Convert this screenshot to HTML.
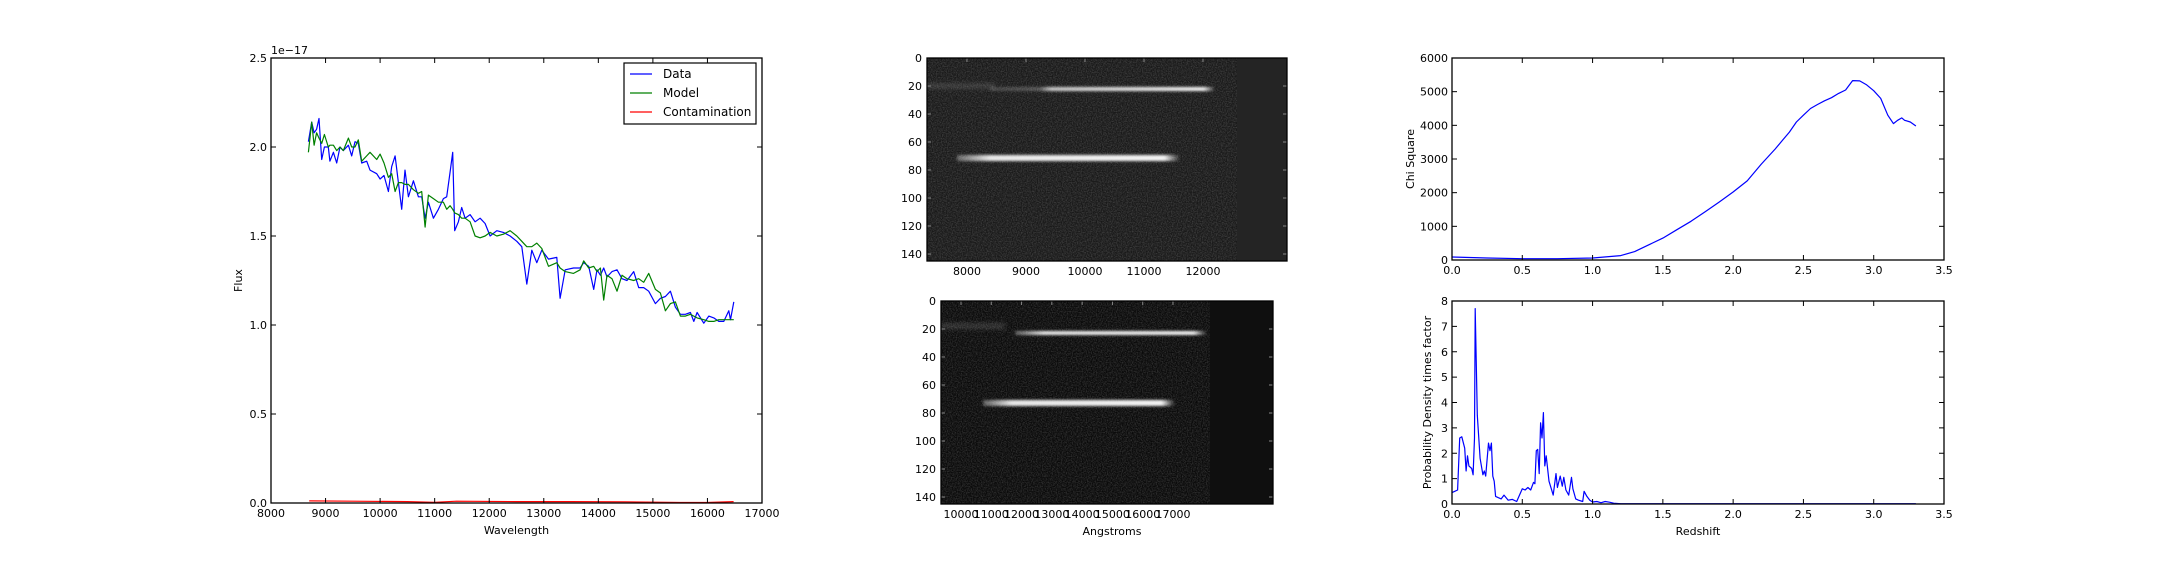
<!DOCTYPE html>
<html><head><meta charset="utf-8"><style>
html,body{margin:0;padding:0;background:#fff;}
svg{display:block;font-family:"DejaVu Sans","Liberation Sans",sans-serif;}
</style></head><body>
<svg id="fig" width="2160" height="576" viewBox="0 0 2160 576" xmlns="http://www.w3.org/2000/svg">
<defs>
<filter id="noise" x="0" y="0" width="100%" height="100%">
<feTurbulence type="fractalNoise" baseFrequency="0.8" numOctaves="2" seed="3" result="t"/>
<feColorMatrix type="matrix" values="0 0 0 0 1  0 0 0 0 1  0 0 0 0 1  0.35 0 0 0 -0.12"/>
</filter>
<filter id="blur1" x="-5%" y="-200%" width="110%" height="500%"><feGaussianBlur stdDeviation="1.3"/></filter>
<filter id="blur2" x="-5%" y="-200%" width="110%" height="500%"><feGaussianBlur stdDeviation="2"/></filter>
<linearGradient id="gA" x1="0" x2="1"><stop offset="0" stop-color="#fff" stop-opacity="0.15"/><stop offset="0.22" stop-color="#fff" stop-opacity="0.25"/><stop offset="0.27" stop-color="#fff" stop-opacity="0.75"/><stop offset="0.95" stop-color="#fff" stop-opacity="0.95"/><stop offset="1" stop-color="#fff" stop-opacity="0"/></linearGradient>
<linearGradient id="gB" x1="0" x2="1"><stop offset="0" stop-color="#fff" stop-opacity="0.3"/><stop offset="0.15" stop-color="#fff" stop-opacity="0.9"/><stop offset="0.93" stop-color="#fff" stop-opacity="0.95"/><stop offset="1" stop-color="#fff" stop-opacity="0"/></linearGradient>
</defs>
<g id="root"></g>
</svg>
<script>
// ---- Spectrum data (flux in 1e-17) ----
const specWave = [8685,8746,8790,8835,8880,8930,8978,9050,9080,9143,9204,9265,9326,9418,9479,9540,9601,9662,9754,9815,9938,9999,10072,10152,10213,10274,10335,10396,10457,10518,10610,10702,10763,10824,10885,10977,11069,11160,11221,11283,11331,11368,11435,11496,11557,11649,11741,11833,11924,12016,12138,12260,12383,12505,12597,12688,12780,12872,12964,13086,13239,13300,13392,13544,13666,13731,13823,13915,13976,14037,14098,14159,14251,14343,14434,14526,14648,14740,14832,14924,15046,15138,15229,15321,15413,15505,15596,15688,15749,15810,15933,16024,16116,16208,16299,16391,16422,16483];
const dataFlux = [2.03,2.14,2.08,2.10,2.16,1.93,2.00,2.00,1.92,1.97,1.91,2.00,1.98,2.01,1.95,2.03,2.02,1.91,1.92,1.87,1.85,1.82,1.84,1.75,1.89,1.95,1.80,1.65,1.87,1.72,1.81,1.72,1.72,1.60,1.69,1.60,1.65,1.71,1.72,1.86,1.97,1.53,1.58,1.66,1.60,1.62,1.58,1.60,1.57,1.50,1.53,1.52,1.50,1.47,1.44,1.23,1.42,1.35,1.42,1.37,1.38,1.15,1.31,1.32,1.32,1.35,1.33,1.20,1.31,1.28,1.32,1.27,1.30,1.31,1.26,1.25,1.30,1.21,1.21,1.19,1.12,1.15,1.16,1.19,1.10,1.06,1.06,1.07,1.02,1.07,1.01,1.05,1.04,1.02,1.02,1.08,1.03,1.13];
const modelFlux = [1.97,2.14,2.01,2.08,2.05,2.02,2.07,2.00,2.01,2.01,1.98,2.00,1.98,2.05,2.00,2.00,2.04,1.92,1.95,1.97,1.93,1.96,1.91,1.83,1.85,1.75,1.80,1.80,1.79,1.79,1.76,1.74,1.75,1.55,1.73,1.71,1.69,1.69,1.65,1.67,1.65,1.63,1.62,1.60,1.60,1.58,1.50,1.49,1.50,1.52,1.50,1.51,1.53,1.50,1.47,1.44,1.44,1.46,1.43,1.33,1.35,1.32,1.30,1.29,1.31,1.36,1.32,1.33,1.30,1.32,1.14,1.28,1.26,1.19,1.28,1.26,1.25,1.26,1.24,1.29,1.20,1.18,1.08,1.12,1.13,1.05,1.05,1.06,1.05,1.04,1.03,1.02,1.02,1.03,1.03,1.03,1.03,1.03];
const contamWave = [8700,9500,10500,11000,11400,12500,13500,14500,15500,16000,16480];
const contamFlux = [0.012,0.010,0.008,0.004,0.010,0.008,0.008,0.007,0.003,0.003,0.008];
const specXTicks = [8000,9000,10000,11000,12000,13000,14000,15000,16000,17000];
const specYTicks = [0.0,0.5,1.0,1.5,2.0,2.5];
const legendLabels = ["Data","Model","Contamination"];
// ---- Chi square ----
const chiZ = [0,0.25,0.5,0.75,1.0,1.2,1.3,1.4,1.5,1.6,1.7,1.8,1.9,2.0,2.1,2.2,2.3,2.35,2.4,2.45,2.5,2.55,2.6,2.65,2.7,2.75,2.8,2.85,2.9,2.95,3.0,3.05,3.1,3.14,3.17,3.2,3.22,3.26,3.3];
const chiVal = [90,60,40,40,60,130,250,450,650,900,1150,1430,1720,2020,2350,2850,3300,3550,3800,4100,4300,4500,4620,4730,4820,4950,5050,5330,5320,5200,5030,4800,4300,4050,4150,4220,4150,4100,3980];
const chiYTicks = [0,1000,2000,3000,4000,5000,6000];
const zTicks = [0.0,0.5,1.0,1.5,2.0,2.5,3.0,3.5];
// ---- Probability density ----
const pdfZ = [0,0.02,0.04,0.055,0.07,0.09,0.1,0.11,0.12,0.14,0.15,0.16,0.165,0.18,0.2,0.22,0.23,0.24,0.26,0.27,0.28,0.29,0.3,0.31,0.33,0.35,0.37,0.4,0.43,0.46,0.5,0.52,0.54,0.56,0.58,0.59,0.6,0.61,0.62,0.63,0.64,0.65,0.66,0.67,0.69,0.72,0.74,0.75,0.77,0.785,0.795,0.81,0.83,0.85,0.86,0.88,0.9,0.93,0.94,0.96,0.98,1.0,1.03,1.06,1.09,1.12,1.15,1.2,3.3];
const pdfVal = [0.45,0.5,0.55,2.6,2.65,2.2,1.3,1.9,1.5,1.4,1.15,2.6,7.7,3.5,1.8,1.15,1.3,1.1,2.4,2.1,2.4,1.1,0.9,0.3,0.25,0.2,0.35,0.15,0.18,0.1,0.6,0.55,0.65,0.55,0.85,0.8,2.1,2.15,1.2,3.2,2.6,3.6,1.5,1.9,0.9,0.35,1.2,0.65,1.1,0.7,1.05,0.55,0.35,1.05,0.6,0.2,0.15,0.1,0.5,0.3,0.15,0.08,0.1,0.05,0.1,0.07,0.03,0.01,0.01];
const pdfYTicks = [0,1,2,3,4,5,6,7,8];
// ---- Images ----
const img1XTicks = [8000,9000,10000,11000,12000];
const img2XTicks = [10000,11000,12000,13000,14000,15000,16000,17000];
const imgYTicks = [0,20,40,60,80,100,120,140];

const NS='http://www.w3.org/2000/svg';
const root=document.getElementById('root');
function mk(tag,attrs,parent){const e=document.createElementNS(NS,tag);for(const k in attrs)e.setAttribute(k,attrs[k]);(parent||root).appendChild(e);return e;}
function txt(s,x,y,anchor,parent,extra){const t=mk('text',Object.assign({x:x,y:y,'text-anchor':anchor||'middle','font-size':11,fill:'#000'},extra||{}),parent);t.textContent=s;return t;}
function lin(d0,d1,r0,r1){return v=>r0+(v-d0)/(d1-d0)*(r1-r0);}
function fmt1(v){return v.toFixed(1);}

function axesFrame(g,L,T,R,B,xt,xs,yt,ys,xf,yf){
  for(const v of xt){const x=xs(v);
    mk('line',{x1:x,y1:B,x2:x,y2:B-5,stroke:'#000','stroke-width':1},g);
    mk('line',{x1:x,y1:T,x2:x,y2:T+5,stroke:'#000','stroke-width':1},g);
    const t=txt(xf(v),x,B+14,'middle',g);
    
    }
  for(const v of yt){const y=ys(v);
    mk('line',{x1:L,y1:y,x2:L+5,y2:y,stroke:'#000','stroke-width':1},g);
    mk('line',{x1:R,y1:y,x2:R-5,y2:y,stroke:'#000','stroke-width':1},g);
    const t=txt(yf(v),L-4,y+4,'end',g);
    
    }
  const f=mk('rect',{x:L,y:T,width:R-L,height:B-T,fill:'none',stroke:'#000','stroke-width':1.3},g);
  
  
}
function path(xsArr,ysArr,xs,ys,color,g,name){
  let d='';for(let i=0;i<xsArr.length;i++){d+=(i?'L':'M')+xs(xsArr[i]).toFixed(1)+','+ys(ysArr[i]).toFixed(1);}
  const p=mk('path',{d:d,fill:'none',stroke:color,'stroke-width':1.2,'stroke-linejoin':'round'},g);
  
  
  return p;
}

// ---- Spectrum panel ----
(function(){
  const g=mk('g',{});
  
  
  const L=271,T=58,R=762,B=503;
  const xs=lin(8000,17000,L,R), ys=lin(0,2.5,B,T);
  const cl=mk('g',{},g);
  path(specWave,dataFlux,xs,ys,'#0000ff',cl,'data-line');
  path(specWave,modelFlux,xs,ys,'#008000',cl,'model-line');
  path(contamWave,contamFlux,xs,ys,'#ff0000',cl,'contamination-line');
  axesFrame(g,L,T,R,B,specXTicks,xs,specYTicks,ys,v=>String(v),fmt1);
  const e=txt('1e\u221217',L,T-4,'start',g);
  
  
  const xl=txt('Wavelength',(L+R)/2,B+31,'middle',g);
  
  
  const yl=txt('Flux',0,0,'middle',g,{transform:'translate(242,'+((T+B)/2)+') rotate(-90)'});
  
  
  const lg=mk('g',{},g);
  
  
  mk('rect',{x:624,y:63,width:132,height:61,fill:'#fff',stroke:'#000','stroke-width':1.2},lg);
  const cols=['#0000ff','#008000','#ff0000'];
  legendLabels.forEach((s,i)=>{const y=74+i*19;
    const l=mk('line',{x1:630,y1:y,x2:652,y2:y,stroke:cols[i],'stroke-width':1.2},lg);
    
    
    const t=txt(s,663,y+4,'start',lg,{'font-size':12});
    
    });
})();

// ---- Images ----
function imagePanel(L,T,R,B,dataR,bg,bgRight,streaks,xt,xs,name,xlabel){
  const g=mk('g',{});
  
  
  mk('rect',{x:L,y:T,width:R-L,height:B-T,fill:bgRight},g);
  mk('rect',{x:L,y:T,width:dataR-L,height:B-T,fill:bg},g);
  mk('rect',{x:L,y:T,width:dataR-L,height:B-T,fill:'#fff',filter:'url(#noise)'},g);
  for(const s of streaks){
    const r=mk('rect',{x:s[0],y:s[2]-s[3]/2,width:s[1]-s[0],height:s[3],fill:s[4],filter:s[5]},g);
    
    
  }
  const ys=lin(0,145,T,B);
  for(const v of imgYTicks){const y=ys(v);
    mk('line',{x1:L,y1:y,x2:L+4,y2:y,stroke:'#888','stroke-width':1},g);
    mk('line',{x1:R,y1:y,x2:R-4,y2:y,stroke:'#888','stroke-width':1},g);
    const t=txt(String(v),L-5,y+4,'end',g);
    
    }
  for(const v of xt){const x=xs(v);
    mk('line',{x1:x,y1:T,x2:x,y2:T+4,stroke:'#888','stroke-width':1},g);
    const t=txt(String(v),x,B+14,'middle',g);
    
    }
  mk('rect',{x:L,y:T,width:R-L,height:B-T,fill:'none',stroke:'#000','stroke-width':1.3},g);
  if(xlabel){const xl=txt(xlabel,(L+R)/2+5,B+31,'middle',g);
    
    }
}
imagePanel(927,58,1287,261,1237,'#191919','#242424',
  [[927,995,86,5,'rgba(255,255,255,0.14)','url(#blur2)'],[990,1215,89,4,'url(#gA)','url(#blur1)'],[957,1180,158,6,'url(#gB)','url(#blur1)']],
  img1XTicks,lin(8000,12000,967,1203),'grism-image-top',null);
imagePanel(941,301,1273,504,1210,'#0a0a0a','#0f0f0f',
  [[941,1005,326,6,'rgba(255,255,255,0.14)','url(#blur2)'],[1015,1207,333,4,'url(#gB)','url(#blur1)'],[983,1175,403,6,'url(#gB)','url(#blur1)']],
  img2XTicks,lin(10000,17000,961,1173),'grism-image-bottom','Angstroms');

// ---- Chi square ----
(function(){
  const g=mk('g',{});
  
  
  const L=1452,T=58,R=1944,B=260;
  const xs=lin(0,3.5,L,R), ys=lin(0,6000,B,T);
  path(chiZ,chiVal,xs,ys,'#0000ff',g,'chi-square-line');
  axesFrame(g,L,T,R,B,zTicks,xs,chiYTicks,ys,fmt1,v=>String(v));
  const yl=txt('Chi Square',0,0,'middle',g,{transform:'translate(1414,'+((T+B)/2)+') rotate(-90)'});
  
  
})();
// ---- PDF ----
(function(){
  const g=mk('g',{});
  
  
  const L=1452,T=301,R=1944,B=504;
  const xs=lin(0,3.5,L,R), ys=lin(0,8,B,T);
  path(pdfZ,pdfVal,xs,ys,'#0000ff',g,'probability-line');
  axesFrame(g,L,T,R,B,zTicks,xs,pdfYTicks,ys,fmt1,v=>String(v));
  const yl=txt('Probability Density times factor',0,0,'middle',g,{transform:'translate(1431,'+((T+B)/2)+') rotate(-90)'});
  
  
  const xl=txt('Redshift',(L+R)/2,B+31,'middle',g);
  
  
})();
</script>
</body></html>
